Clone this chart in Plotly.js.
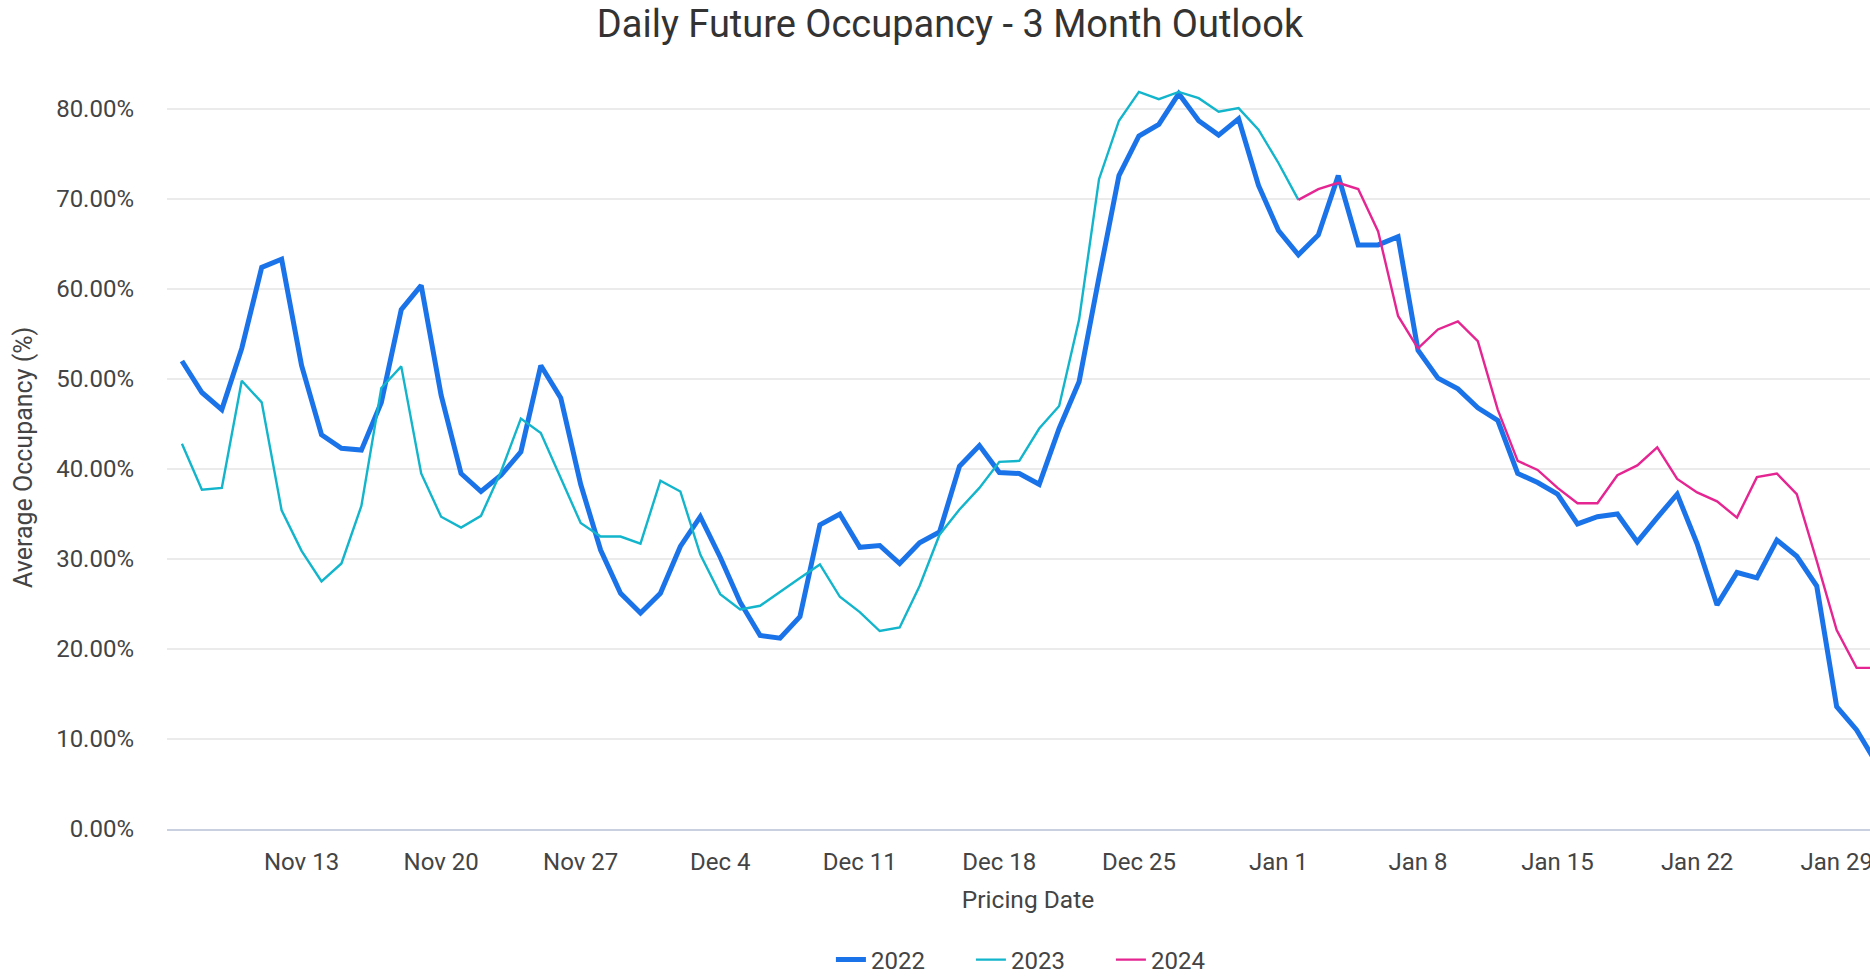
<!DOCTYPE html>
<html>
<head>
<meta charset="utf-8">
<script src="https://cdn.plot.ly/plotly-3.0.1.min.js"></script>
<style>
html, body { margin: 0; padding: 0; background: #fff; overflow: hidden; }
#chart { width: 1900px; height: 977px; }
</style>
</head>
<body>
<div id="chart"></div>
<script>
const dates = [
  '2023-11-07','2023-11-08','2023-11-09','2023-11-10','2023-11-11','2023-11-12','2023-11-13','2023-11-14',
  '2023-11-15','2023-11-16','2023-11-17','2023-11-18','2023-11-19','2023-11-20','2023-11-21','2023-11-22',
  '2023-11-23','2023-11-24','2023-11-25','2023-11-26','2023-11-27','2023-11-28','2023-11-29','2023-11-30',
  '2023-12-01','2023-12-02','2023-12-03','2023-12-04','2023-12-05','2023-12-06','2023-12-07','2023-12-08',
  '2023-12-09','2023-12-10','2023-12-11','2023-12-12','2023-12-13','2023-12-14','2023-12-15','2023-12-16',
  '2023-12-17','2023-12-18','2023-12-19','2023-12-20','2023-12-21','2023-12-22','2023-12-23','2023-12-24',
  '2023-12-25','2023-12-26','2023-12-27','2023-12-28','2023-12-29','2023-12-30','2023-12-31',
  '2024-01-01','2024-01-02','2024-01-03','2024-01-04','2024-01-05','2024-01-06','2024-01-07','2024-01-08',
  '2024-01-09','2024-01-10','2024-01-11','2024-01-12','2024-01-13','2024-01-14','2024-01-15','2024-01-16',
  '2024-01-17','2024-01-18','2024-01-19','2024-01-20','2024-01-21','2024-01-22','2024-01-23','2024-01-24',
  '2024-01-25','2024-01-26','2024-01-27','2024-01-28','2024-01-29','2024-01-30','2024-01-31'
];

const occ2022 = [
  52.0, 48.5, 46.6, 53.4, 62.4, 63.3, 51.5, 43.8, 42.3, 42.1, 47.4, 57.7, 60.4, 48.2, 39.5, 37.5,
  39.3, 41.9, 51.5, 47.9, 38.3, 31.0, 26.2, 24.0,
  26.2, 31.4, 34.7, 30.2, 25.2, 21.5, 21.2, 23.6, 33.8, 35.0, 31.3, 31.5, 29.5, 31.8, 33.0, 40.3,
  42.6, 39.6, 39.5, 38.3, 44.5, 49.7, 61.3, 72.6, 77.0, 78.3, 81.7, 78.7, 77.1, 78.9, 71.5,
  66.5, 63.8, 66.0, 72.6, 64.9, 64.9, 65.8, 53.2, 50.1, 48.9, 46.8, 45.4, 39.5, 38.5, 37.2, 33.9,
  34.7, 35.0, 31.9, 34.6, 37.2, 31.7, 24.9, 28.5, 27.9, 32.1, 30.3, 27.0, 13.6, 11.0, 7.3
];

const occ2023 = [
  42.8, 37.7, 37.9, 49.8, 47.4, 35.4, 30.9, 27.5, 29.5, 35.9, 49.0, 51.4, 39.5, 34.7, 33.5, 34.8,
  39.7, 45.6, 44.0, 39.1, 34.0, 32.5, 32.5, 31.7,
  38.7, 37.5, 30.5, 26.1, 24.4, 24.8, 26.4, 27.9, 29.4, 25.8, 24.1, 22.0, 22.4, 27.0, 32.7, 35.5,
  37.9, 40.8, 40.9, 44.5, 47.0, 56.6, 72.2, 78.7, 81.9, 81.1, 81.9, 81.2, 79.7, 80.1, 77.7,
  74.0, 69.9
];

const occ2024 = [
  69.9, 71.1, 71.8, 71.1, 66.4, 57.0, 53.4, 55.5, 56.4, 54.2, 46.6, 40.9, 39.9, 37.9, 36.2,
  36.2, 39.3, 40.4, 42.4, 38.9, 37.4, 36.4, 34.6, 39.1, 39.5, 37.2, 29.8, 22.1, 17.9, 17.9
];

const seriesNames = ['2022', '2023', '2024'];

const traces = [
  {
    x: dates.slice(0, occ2022.length), y: occ2022, name: seriesNames[0],
    type: 'scatter', mode: 'lines',
    line: { color: '#1a73e8', width: 5 }
  },
  {
    x: dates.slice(0, occ2023.length), y: occ2023, name: seriesNames[1],
    type: 'scatter', mode: 'lines',
    line: { color: '#12b5cb', width: 2.4 }
  },
  {
    x: dates.slice(dates.length - occ2024.length), y: occ2024, name: seriesNames[2],
    type: 'scatter', mode: 'lines',
    line: { color: '#e52592', width: 2.4 }
  }
];

const layout = {
  width: 1900,
  height: 977,
  paper_bgcolor: '#ffffff',
  plot_bgcolor: '#ffffff',
  font: { family: 'Roboto, "Open Sans", sans-serif', size: 24, color: '#444' },
  margin: { l: 167, r: 11, t: 64, b: 148, autoexpand: false },
  title: {
    text: 'Daily Future Occupancy - 3 Month Outlook',
    font: { family: 'Roboto, sans-serif', size: 38, color: '#333' },
    x: 0.5, xanchor: 'center',
    y: 1 - 24 / 977, yref: 'container', yanchor: 'middle'
  },
  xaxis: {
    type: 'date',
    range: ['2023-11-06 06:00', '2024-01-31 15:00'],
    tick0: '2023-11-13',
    dtick: 7 * 86400000,
    tickformat: '%b %-d',
    showgrid: false,
    zeroline: false,
    showline: true,
    linecolor: '#c9d0e0',
    linewidth: 2,
    ticks: '',
    ticklabelstandoff: 10,
    tickfont: { size: 24, color: '#444' },
    title: { text: 'Pricing Date', font: { size: 24.5, color: '#444' }, standoff: 16 }
  },
  yaxis: {
    range: [0, 85],
    tick0: 0,
    dtick: 10,
    tickformat: '.2f',
    ticksuffix: '%',
    showgrid: true,
    gridcolor: '#ebebeb',
    gridwidth: 2,
    zeroline: false,
    showline: false,
    ticks: '',
    ticklabelstandoff: 32,
    tickfont: { size: 24, color: '#444' }
  },
  annotations: [
    {
      text: 'Average Occupancy (%)',
      textangle: -90,
      xref: 'paper', x: (24 - 167) / 1722, xanchor: 'center',
      yref: 'paper', y: (829 - 458) / 765, yanchor: 'middle',
      showarrow: false,
      font: { size: 25, color: '#444' }
    }
  ],
  showlegend: true,
  legend: {
    orientation: 'h',
    xref: 'paper', x: 0.5075, xanchor: 'center',
    yref: 'container', y: (977 - 960) / 977, yanchor: 'middle',
    font: { size: 24, color: '#444' },
    itemwidth: 30,
    entrywidth: 95,
    entrywidthmode: 'pixels',
    bgcolor: 'rgba(0,0,0,0)'
  },
  hovermode: false
};

Plotly.newPlot('chart', traces, layout, { displayModeBar: false, staticPlot: true });
</script>
</body>
</html>
